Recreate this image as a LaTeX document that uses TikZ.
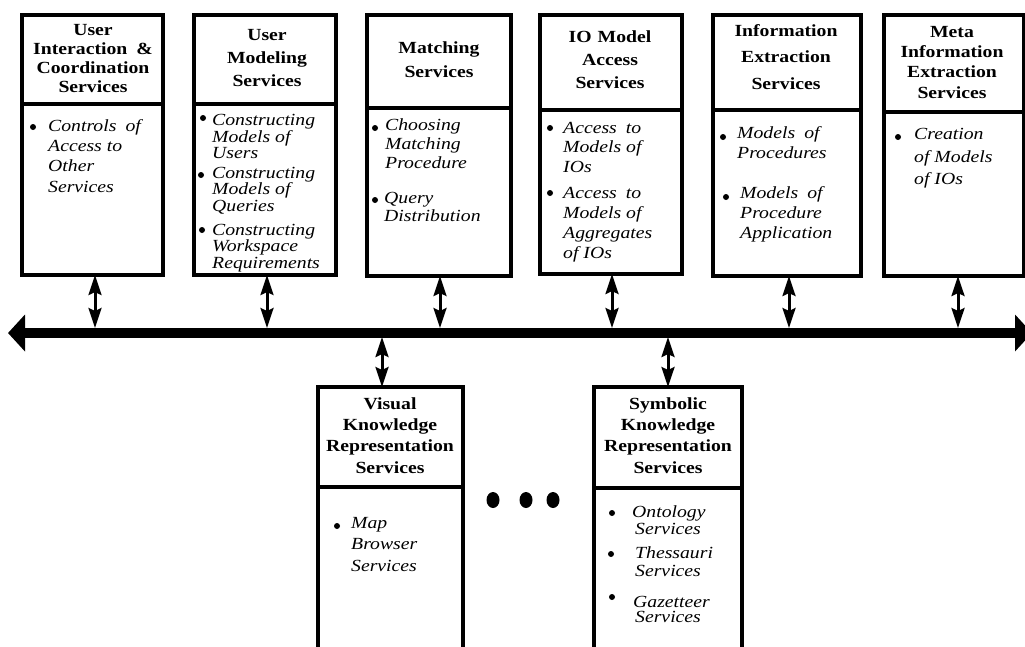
\documentclass[tikz,border=0pt]{standalone}
\usepackage{fontspec}
\setmainfont{Liberation Serif}[FakeStretch=1.16]
\usetikzlibrary{arrows.meta}
\newcommand\myTS{\rule{0pt}{12pt}}
\newcommand\bodysp{\spaceskip=9pt plus 2pt\relax}
\begin{document}
\begin{tikzpicture}[x=1pt,y=1pt,
  box/.style={draw, line width=3.8pt, rectangle, inner sep=0pt, outer sep=0pt, anchor=north west},
  divline/.style={line width=3.8pt},
  ttl/.style={font=\bfseries\fontsize{17}{#1}\selectfont, align=center, anchor=north, inner sep=0pt},
  body/.style={font=\itshape\fontsize{17}{#1}\selectfont, align=left, anchor=north west, inner sep=0pt},
  vlink/.style={line width=3pt, {Stealth[length=20pt,width=13pt,inset=3pt]}-{Stealth[length=20pt,width=13pt,inset=3pt]}},
  bus/.style={line width=10pt, {Triangle[length=17pt,width=36pt]}-{Triangle[length=17pt,width=36pt]}},
  dot/.style={fill=black}
]
\clip (0,0) rectangle (1025,-646);

% boxes
\node[box, minimum width=141pt, minimum height=260pt] (b1) at (22,-15) {};
\node[box, minimum width=142pt, minimum height=260pt] (b2) at (194,-15) {};
\node[box, minimum width=144pt, minimum height=261pt] (b3) at (367,-15) {};
\node[box, minimum width=142pt, minimum height=259pt] (b4) at (540,-15) {};
\node[box, minimum width=148pt, minimum height=261pt] (b5) at (713,-15) {};
\node[box, minimum width=140pt, minimum height=261pt] (b6) at (884,-15) {};
\node[box, minimum width=145pt, minimum height=290pt] (bv) at (318,-387) {};
\node[box, minimum width=148pt, minimum height=290pt] (bs) at (594,-387) {};

% dividers
\draw[divline] ([yshift=-89pt]b1.north west) -- ([yshift=-89pt]b1.north east);
\draw[divline] ([yshift=-89pt]b2.north west) -- ([yshift=-89pt]b2.north east);
\draw[divline] ([yshift=-93pt]b3.north west) -- ([yshift=-93pt]b3.north east);
\draw[divline] ([yshift=-95pt]b4.north west) -- ([yshift=-95pt]b4.north east);
\draw[divline] ([yshift=-95pt]b5.north west) -- ([yshift=-95pt]b5.north east);
\draw[divline] ([yshift=-97pt]b6.north west) -- ([yshift=-97pt]b6.north east);
\draw[divline] ([yshift=-100pt]bv.north west) -- ([yshift=-100pt]bv.north east);
\draw[divline] ([yshift=-101pt]bs.north west) -- ([yshift=-101pt]bs.north east);

% titles
\node[ttl=19] (h1) at (93,-23) {\myTS User\\Interaction\hspace{9pt}\&\\Coordination\\Services};
\node[ttl=23] (h2) at (267,-28) {\myTS User\\Modeling\\Services};
\node[ttl=24] (h3) at (439,-41) {\myTS Matching\\Services};
\node[ttl=23] (h4) at (610,-30) {\myTS IO\hspace{6pt}Model\\Access\\Services};
\node[ttl=26.5] (h5) at (786,-24) {\myTS Information\\Extraction\\Services};
\node[ttl=20.3] (h6) at (952,-25) {\myTS Meta\\Information\\Extraction\\Services};
\node[ttl=21.3] (hv) at (390,-397) {\myTS Visual\\Knowledge\\Representation\\Services};
\node[ttl=21.3] (hs) at (668,-397) {\myTS Symbolic\\Knowledge\\Representation\\Services};

% body texts
\fill[dot] (33,-127) circle (3pt);
\node[body=20.3] (t1a) at (48,-119) {\bodysp\myTS Controls of\\Access to\\Other\\Services};

\fill[dot] (203,-118) circle (3pt);
\fill[dot] (201,-175) circle (3pt);
\fill[dot] (202,-230) circle (3pt);
\node[body=16.6] (t2a) at (212,-113.5) {\bodysp\myTS Constructing\\Models of\\Users};
\node[body=16.6] (t2b) at (212,-166) {\bodysp\myTS Constructing\\Models of\\Queries};
\node[body=16.6] (t2c) at (212,-223) {\bodysp\myTS Constructing\\Workspace\\Requirements};

\fill[dot] (375,-128) circle (3pt);
\fill[dot] (375,-200) circle (3pt);
\node[body=19] (t3a) at (385,-118) {\bodysp\myTS Choosing\\Matching\\Procedure};
\node[body=18.5] (t3b) at (384,-191) {\bodysp\myTS Query\\Distribution};

\fill[dot] (550,-128) circle (3pt);
\fill[dot] (550,-193) circle (3pt);
\node[body=19.5] (t4a) at (563,-121) {\bodysp\myTS Access to\\Models of\\IOs};
\node[body=20] (t4b) at (563,-186) {\bodysp\myTS Access to\\Models of\\Aggregates\\of IOs};

\fill[dot] (723,-137) circle (3pt);
\fill[dot] (726,-197) circle (3pt);
\node[body=20] (t5a) at (737,-126) {\bodysp\myTS Models of\\Procedures};
\node[body=20] (t5b) at (740,-186) {\bodysp\myTS Models of\\Procedure\\Application};

\fill[dot] (898,-137) circle (3pt);
\node[body=22.8] (t6a) at (914,-127) {\bodysp\myTS Creation\\of Models\\of IOs};

\fill[dot] (337,-526) circle (3pt);
\node[body=21.7] (tva) at (351,-516) {\bodysp\myTS Map\\Browser\\Services};

\fill[dot] (612,-513) circle (3pt);
\fill[dot] (611,-554) circle (3pt);
\fill[dot] (612,-597) circle (3pt);
\node[body=17.3] (tsa) at (632,-505) {\bodysp\myTS Ontology\\\hspace*{3pt}Services};
\node[body=18.3] (tsb) at (635,-546) {\bodysp\myTS Thessauri\\Services};
\node[body=15] (tsc) at (633,-595) {\bodysp\myTS Gazetteer\\\hspace*{2pt}Services};

% ellipsis dots
\fill[dot] (493,-500) ellipse (6.5pt and 8pt);
\fill[dot] (526,-500) ellipse (6.5pt and 8pt);
\fill[dot] (553,-500) ellipse (6.5pt and 8pt);

% bus
\coordinate (busL) at (8,-333);
\coordinate (busR) at (1032,-333);
\coordinate (busT) at (0,-328);
\coordinate (busB) at (0,-337);
\draw[bus] (busL) -- (busR);

% links
\coordinate (a1) at ([xshift=2.5pt]b1.south);
\coordinate (a2) at ([xshift=2pt]b2.south);
\coordinate (a3) at ([xshift=1pt]b3.south);
\coordinate (a4) at ([xshift=1pt]b4.south);
\coordinate (a5) at ([xshift=2pt]b5.south);
\coordinate (a6) at ([xshift=4pt]b6.south);
\coordinate (av) at ([xshift=-8.5pt]bv.north);
\coordinate (as) at (bs.north);
\draw[vlink] (a1) -- (a1 |- busT);
\draw[vlink] (a2) -- (a2 |- busT);
\draw[vlink] (a3) -- (a3 |- busT);
\draw[vlink] (a4) -- (a4 |- busT);
\draw[vlink] (a5) -- (a5 |- busT);
\draw[vlink] (a6) -- (a6 |- busT);
\draw[vlink] (av |- busB) -- (av);
\draw[vlink] (as |- busB) -- (as);
\end{tikzpicture}
\end{document}
